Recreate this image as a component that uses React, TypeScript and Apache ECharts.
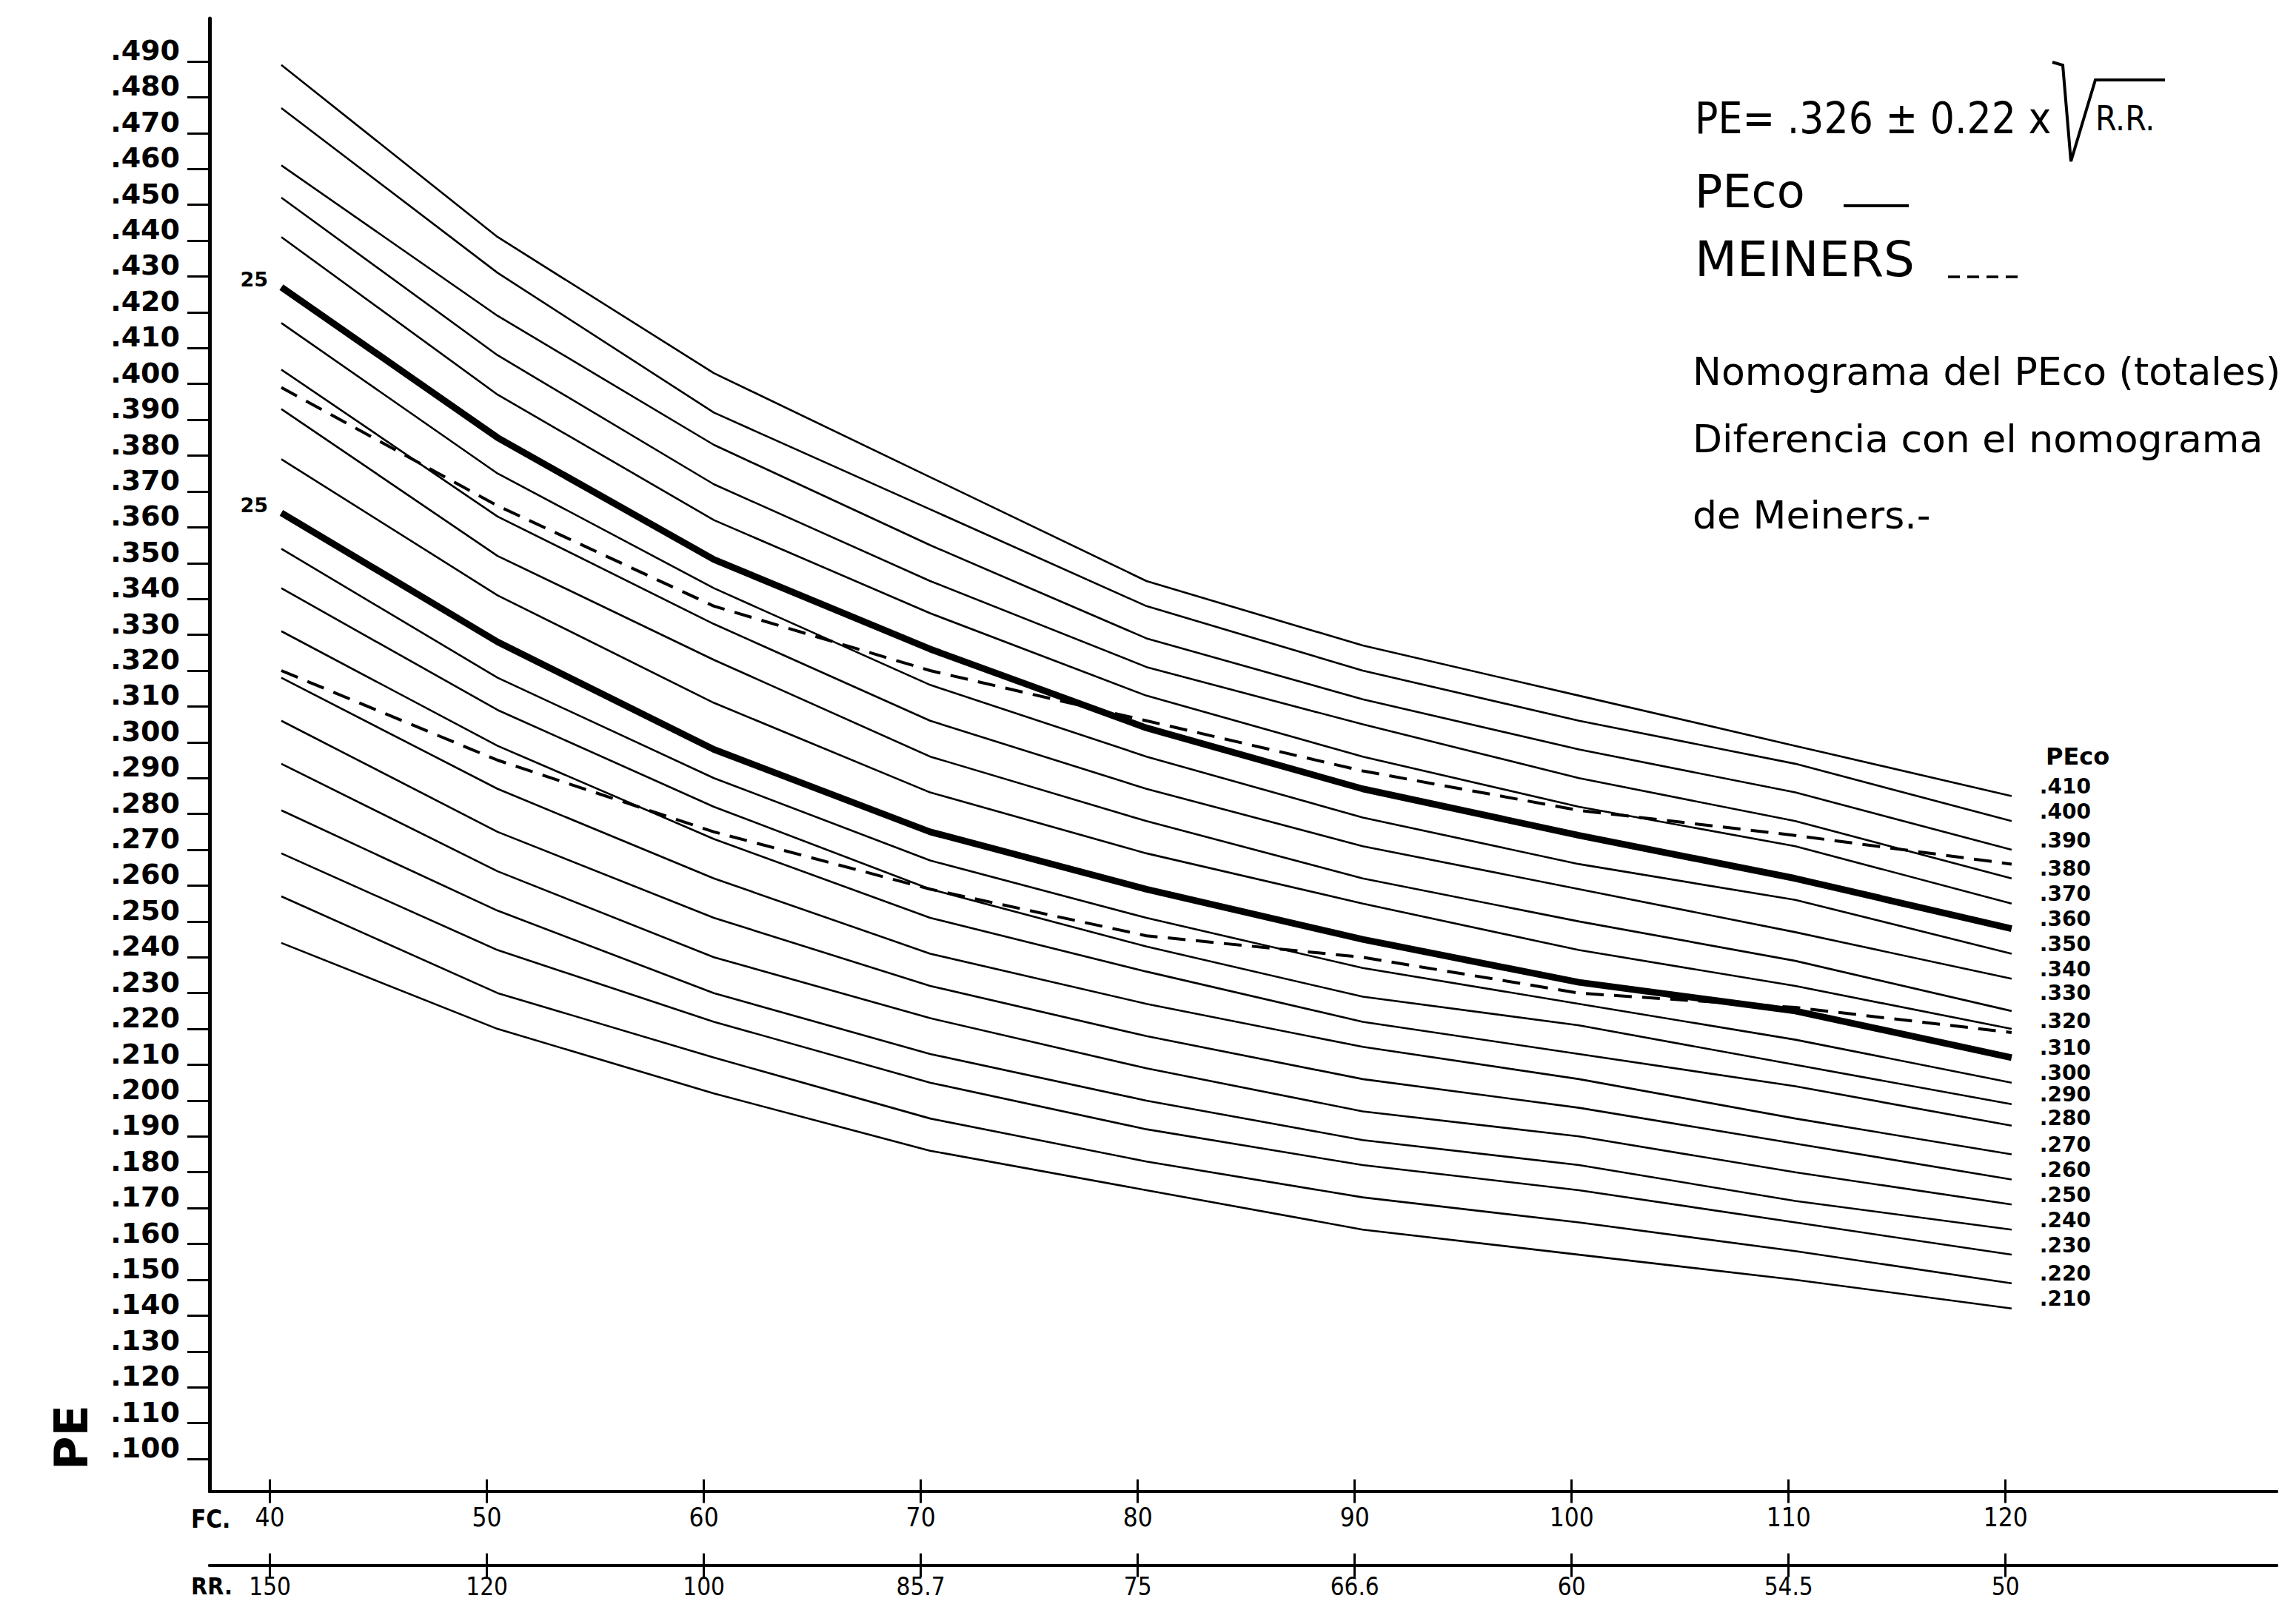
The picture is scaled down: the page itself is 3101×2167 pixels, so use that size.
import React, { useEffect, useRef } from "react";
import * as echarts from "echarts";

// ---------- data ----------
const fcValues = [40, 50, 60, 70, 80, 90, 100, 110, 120];
const fcLabels = ["40", "50", "60", "70", "80", "90", "100", "110", "120"];
const rrLabels = ["150", "120", "100", "85.7", "75", "66.6", "60", "54.5", "50"];

const yTickLabels = [
  ".100", ".110", ".120", ".130", ".140", ".150", ".160", ".170", ".180", ".190",
  ".200", ".210", ".220", ".230", ".240", ".250", ".260", ".270", ".280", ".290",
  ".300", ".310", ".320", ".330", ".340", ".350", ".360", ".370", ".380", ".390",
  ".400", ".410", ".420", ".430", ".440", ".450", ".460", ".470", ".480", ".490",
];
const yTickValues = yTickLabels.map((l) => parseFloat("0" + l));

const pecoLabels = [
  ".410", ".400", ".390", ".380", ".370", ".360", ".350", ".340", ".330", ".320", ".310",
  ".300", ".290", ".280", ".270", ".260", ".250", ".240", ".230", ".220", ".210",
];

// PE value of each PEco line at FC 40..120
const pecoLines: number[][] = [
  [0.489, 0.441, 0.403, 0.374, 0.345, 0.327, 0.313, 0.299, 0.285],
  [0.477, 0.431, 0.392, 0.365, 0.338, 0.320, 0.306, 0.294, 0.278],
  [0.461, 0.419, 0.383, 0.355, 0.329, 0.312, 0.298, 0.286, 0.270],
  [0.452, 0.408, 0.372, 0.345, 0.321, 0.305, 0.290, 0.278, 0.262],
  [0.441, 0.397, 0.362, 0.336, 0.313, 0.296, 0.282, 0.271, 0.255],
  [0.427, 0.385, 0.351, 0.326, 0.304, 0.287, 0.274, 0.262, 0.248],
  [0.417, 0.375, 0.343, 0.316, 0.296, 0.279, 0.266, 0.256, 0.241],
  [0.404, 0.363, 0.333, 0.306, 0.287, 0.271, 0.259, 0.247, 0.234],
  [0.393, 0.352, 0.323, 0.296, 0.278, 0.262, 0.250, 0.239, 0.225],
  [0.379, 0.341, 0.311, 0.286, 0.269, 0.255, 0.242, 0.232, 0.220],
  [0.364, 0.328, 0.298, 0.275, 0.259, 0.245, 0.233, 0.225, 0.212],
  [0.354, 0.318, 0.290, 0.267, 0.251, 0.237, 0.227, 0.217, 0.205],
  [0.343, 0.309, 0.282, 0.259, 0.243, 0.229, 0.221, 0.210, 0.199],
  [0.331, 0.299, 0.273, 0.251, 0.236, 0.222, 0.213, 0.204, 0.193],
  [0.318, 0.287, 0.262, 0.241, 0.227, 0.215, 0.206, 0.195, 0.185],
  [0.306, 0.275, 0.251, 0.232, 0.218, 0.206, 0.198, 0.188, 0.178],
  [0.294, 0.264, 0.240, 0.223, 0.209, 0.197, 0.190, 0.180, 0.171],
  [0.281, 0.253, 0.230, 0.213, 0.200, 0.189, 0.182, 0.172, 0.164],
  [0.269, 0.242, 0.222, 0.205, 0.192, 0.182, 0.175, 0.166, 0.157],
  [0.257, 0.230, 0.212, 0.195, 0.183, 0.173, 0.166, 0.158, 0.149],
  [0.244, 0.220, 0.202, 0.186, 0.175, 0.164, 0.157, 0.150, 0.142],
];
const thickLabels = [".360", ".310"];
const startMarkText = "25";

const meinersUpper = [0.399, 0.366, 0.338, 0.320, 0.306, 0.292, 0.281, 0.274, 0.266];
const meinersLower = [0.320, 0.295, 0.275, 0.259, 0.246, 0.240, 0.230, 0.226, 0.219];

// ---------- styling ----------
const FONT = "'DejaVu Sans', sans-serif";
const NARROW = "'DejaVu Sans Condensed', 'Liberation Sans Narrow', 'DejaVu Sans', sans-serif";
const INK = "#000";
// small vertical nudges of the hand-placed end labels (px)
const endLabelNudge: Record<string, number> = { ".330": -11, ".320": 2, ".280": 3 };

export default function App() {
  const ref = useRef<HTMLDivElement>(null);

  useEffect(() => {
    if (!ref.current) return;
    const chart = echarts.init(ref.current, undefined, { renderer: "svg" });

    const findIdx = (arr: number[], v: number) =>
      arr.findIndex((t) => Math.abs(t - v) < 1e-6);

    const xBase = {
      type: "value",
      min: 37.215,
      max: 132.5,
      position: "bottom",
      splitLine: { show: false },
      axisLine: { show: true, onZero: false, lineStyle: { color: INK, width: 4 } },
    };
    const tickStyle = { color: INK, width: 3 };

    const pecoSeries = pecoLabels.map((lab, i) => {
      const thick = thickLabels.includes(lab);
      return {
        type: "line",
        name: "PEco " + lab,
        xAxisIndex: 4,
        yAxisIndex: 0,
        silent: true,
        symbol: "circle",
        symbolSize: 0,
        showSymbol: true,
        emphasis: { disabled: true },
        lineStyle: { color: INK, width: thick ? 9 : 2.6 },
        itemStyle: { color: INK },
        data: fcValues.map((fc, j) => {
          const item: any = { value: [fc, pecoLines[i][j]] };
          if (j === 0 && thick) {
            item.label = {
              show: true,
              formatter: startMarkText,
              position: "left",
              distance: 18,
              offset: [0, -10],
              color: INK,
              fontSize: 27,
              fontWeight: "bold",
              fontFamily: FONT,
            };
          }
          return item;
        }),
        endLabel: {
          show: true,
          formatter: lab,
          distance: 38,
          offset: [0, -13 + (endLabelNudge[lab] || 0)],
          color: INK,
          fontSize: 28,
          fontWeight: "bold",
          fontFamily: FONT,
        },
      };
    });

    const meinersSeries = [meinersUpper, meinersLower].map((arr, k) => ({
      type: "line",
      name: "Meiners " + (k + 1),
      xAxisIndex: 4,
      yAxisIndex: 0,
      silent: true,
      symbol: "none",
      emphasis: { disabled: true },
      lineStyle: { color: INK, width: 4, type: [24, 14] },
      data: fcValues.map((fc, j) => [fc, arr[j]]),
    }));

    const text = (t: string, x: number, y: number, size: number, extra: any = {}) => ({
      type: "text",
      x,
      y,
      style: {
        text: t,
        fill: INK,
        fontSize: size,
        fontFamily: FONT,
        verticalAlign: "middle",
        align: "left",
        ...extra,
      },
    });

    const option: any = {
      animation: false,
      backgroundColor: "#fff",
      grid: {
        left: 283,
        right: 26,
        top: 24.9,
        bottom: 152.4,
        containLabel: false,
        outerBoundsMode: "none",
      },
      xAxis: [
        {
          ...xBase,
          axisTick: { show: true, inside: false, length: 16, customValues: fcValues, lineStyle: tickStyle },
          axisLabel: {
            show: true,
            customValues: fcValues,
            formatter: (v: number) => {
              const i = findIdx(fcValues, v);
              return i >= 0 ? fcLabels[i] : "";
            },
            margin: 18,
            color: INK,
            fontSize: 35,
            fontFamily: NARROW,
          },
        },
        {
          ...xBase,
          axisTick: { show: true, inside: true, length: 16, customValues: fcValues, lineStyle: tickStyle },
          axisLabel: { show: false },
        },
        {
          ...xBase,
          offset: 100,
          axisTick: { show: true, inside: false, length: 16, customValues: fcValues, lineStyle: tickStyle },
          axisLabel: {
            show: true,
            customValues: fcValues,
            formatter: (v: number) => {
              const i = findIdx(fcValues, v);
              return i >= 0 ? rrLabels[i] : "";
            },
            margin: 12,
            color: INK,
            fontSize: 33,
            fontFamily: NARROW,
          },
        },
        {
          ...xBase,
          offset: 100,
          axisTick: { show: true, inside: true, length: 16, customValues: fcValues, lineStyle: tickStyle },
          axisLabel: { show: false },
        },
        // hidden scale on which the hand-drawn curves are plotted
        {
          type: "value",
          show: false,
          min: 36.68,
          max: 132.26,
          position: "bottom",
        },
      ],
      yAxis: [
        {
          type: "value",
          min: 0.091,
          max: 0.502,
          position: "left",
          splitLine: { show: false },
          axisLine: { show: true, onZero: false, lineStyle: { color: INK, width: 5 } },
          axisTick: {
            show: true,
            inside: false,
            length: 30,
            customValues: yTickValues,
            lineStyle: tickStyle,
          },
          axisLabel: {
            show: true,
            customValues: yTickValues,
            formatter: (v: number) => {
              const i = findIdx(yTickValues, v);
              return i >= 0 ? yTickLabels[i] : "";
            },
            margin: 40,
            verticalAlign: "bottom",
            lineHeight: 30,
            color: INK,
            fontSize: 38,
            fontWeight: "bold",
            fontFamily: FONT,
          },
        },
      ],
      series: [...pecoSeries, ...meinersSeries],
      graphic: [
        // formula
        text("PE= .326 ± 0.22 x", 2289, 160, 58, { fontFamily: NARROW }),
        {
          type: "polyline",
          shape: { points: [[2772, 84], [2786, 88], [2797, 218], [2830, 108], [2924, 108]] },
          style: { stroke: INK, lineWidth: 4, fill: "none" },
        },
        text("R.R.", 2830, 160, 46, { fontFamily: NARROW }),
        // legend
        text("PEco", 2289, 258, 62),
        {
          type: "line",
          shape: { x1: 2490, y1: 278, x2: 2578, y2: 278 },
          style: { stroke: INK, lineWidth: 4 },
        },
        text("MEINERS", 2289, 350, 66),
        {
          type: "line",
          shape: { x1: 2631, y1: 374, x2: 2728, y2: 374 },
          style: { stroke: INK, lineWidth: 3.5, lineDash: [16, 10] },
        },
        // description
        text("Nomograma del PEco (totales)", 2286, 502, 52),
        text("Diferencia con el nomograma", 2286, 593, 52),
        text("de Meiners.-", 2286, 696, 52),
        // right column header
        text("PEco", 2763, 1022, 32, { fontWeight: "bold" }),
        // axis captions
        {
          type: "text",
          x: 96,
          y: 1942,
          rotation: Math.PI / 2,
          style: {
            text: "PE",
            fill: INK,
            fontSize: 62,
            fontWeight: "bold",
            fontFamily: FONT,
            align: "center",
            verticalAlign: "middle",
          },
        },
        text("FC.", 258, 2052, 33, { fontWeight: "bold", fontFamily: NARROW }),
        text("RR.", 258, 2143, 32, { fontWeight: "bold", fontFamily: NARROW }),
      ],
    };

    chart.setOption(option);
    return () => chart.dispose();
  }, []);

  return (
    <div
      ref={ref}
      style={{ position: "absolute", left: 0, top: 0, width: 3101, height: 2167, background: "#fff" }}
    />
  );
}
